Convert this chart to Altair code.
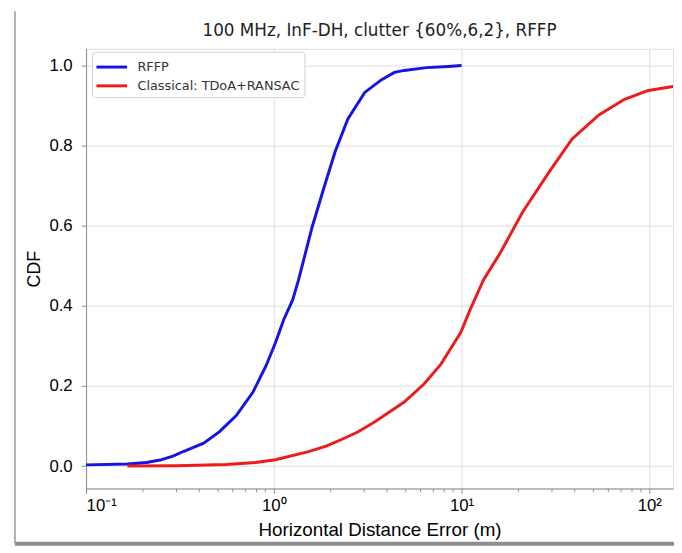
import altair as alt
import pandas as pd

# RFFP CDF points (x in metres, cdf)
rffp_x = [0.1, 0.166, 0.21, 0.248, 0.29, 0.332, 0.423, 0.514, 0.631, 0.775, 0.908,
          1.02, 1.13, 1.26, 1.354, 1.60, 1.83, 2.12, 2.48, 3.05, 3.75, 4.39, 4.95,
          6.5, 8.5, 10.0]
rffp_y = [0.003, 0.005, 0.009, 0.015, 0.025, 0.037, 0.057, 0.086, 0.126, 0.185, 0.25,
          0.308, 0.366, 0.415, 0.465, 0.597, 0.688, 0.785, 0.867, 0.933, 0.965, 0.983, 0.988,
          0.995, 0.998, 1.0]

# Classical TDoA+RANSAC CDF points
cls_x = [0.166, 0.305, 0.559, 0.8, 1.02, 1.53, 1.9, 2.31, 2.8, 3.44, 4.95, 6.31, 7.75,
         9.88, 11.1, 13.06, 16.0, 21.2, 29.4, 38.8, 53.9, 73.8, 98.8, 133.7, 150.0]
cls_y = [0.0, 0.001, 0.004, 0.009, 0.016, 0.036, 0.05, 0.067, 0.085, 0.11, 0.16, 0.205,
         0.254, 0.333, 0.39, 0.464, 0.531, 0.635, 0.736, 0.817, 0.877, 0.916, 0.938,
         0.948, 0.952]

series = ["RFFP", "Classical: TDoA+RANSAC"]
colors = ["#1414e6", "#ec1c1c"]

x_major = [0.1, 1, 10, 100]
x_minor = [m * d for d in [0.1, 1, 10] for m in range(2, 10)]
y_ticks = [0.0, 0.2, 0.4, 0.6, 0.8, 1.0]
x_domain = [0.1, 133.7]
y_domain = [-0.056, 1.042]

title_text = "100 MHz, InF-DH, clutter {60%,6,2}, RFFP"
x_title = "Horizontal Distance Error (m)"
y_title = "CDF"

df = pd.concat([
    pd.DataFrame({"x": rffp_x, "y": rffp_y, "s": series[0], "o": 0}),
    pd.DataFrame({"x": cls_x, "y": cls_y, "s": series[1], "o": 1}),
])

FONT = "DejaVu Sans"

xscale = alt.Scale(type="log", domain=x_domain, nice=False)
yscale = alt.Scale(domain=y_domain, nice=False, zero=False)

y_axis = alt.Axis(values=y_ticks, format=".1f", grid=True, tickSize=5,
                  labelPadding=9, titlePadding=5,
                  labelFontSize=17, titleFontSize=18, titleFontWeight="normal")

lines = alt.Chart(df).mark_line(strokeWidth=3, clip=True).encode(
    x=alt.X("x:Q", scale=xscale, title=x_title,
            axis=alt.Axis(values=x_major, orient="bottom", grid=True,
                          labelExpr="datum.value < 0.5 ? '10⁻¹' : datum.value < 5 ? '10⁰' : datum.value < 50 ? '10¹' : '10²'",
                          tickSize=5, labelPadding=4, titlePadding=8,
                          labelFontSize=17, titleFontSize=19, titleFontWeight="normal")),
    y=alt.Y("y:Q", scale=yscale, title=y_title, axis=y_axis),
    color=alt.Color("s:N", scale=alt.Scale(domain=series, range=colors), sort=series,
                    legend=alt.Legend(title=None, orient="none", legendX=6, legendY=3,
                                      symbolType="M-1.1,0L2,0", symbolStrokeWidth=3, symbolSize=400,
                                      labelFontSize=13, labelFont=FONT, labelColor="#333",
                                      labelLimit=400,
                                      fillColor="white", strokeColor="#d0d0d0", cornerRadius=3,
                                      padding=4, rowPadding=-1, labelOffset=19)),
    order="o:Q",
    detail="s:N",
)

minor = alt.Chart(df).mark_line(opacity=0).encode(
    x=alt.X("x:Q", scale=xscale,
            axis=alt.Axis(values=x_minor, orient="bottom", grid=False, labels=False,
                          title=None, domain=False, tickSize=3)),
    y=alt.Y("y:Q", scale=yscale, title=y_title),
)

# screenshot frame decoration
frame_left = alt.Chart(pd.DataFrame({"k": [0]})).mark_rule(color="#b0b0b0", strokeWidth=2).encode(
    x=alt.value(-72), y=alt.value(-38), y2=alt.value(500))
frame_bottom = alt.Chart(pd.DataFrame({"k": [0]})).mark_rule(color="#707070", strokeWidth=4, opacity=0.8).encode(
    x=alt.value(-72), x2=alt.value(600), y=alt.value(501))

chart = alt.layer(lines, minor, frame_left, frame_bottom).resolve_axis(x="independent").properties(
    width=594, height=445,
    title=alt.TitleParams(title_text, fontSize=17, font=FONT, fontWeight="normal",
                          color="#222", anchor="middle", frame="group", offset=0, dy=30),
    autosize=alt.AutoSizeParams(type="none"),
    padding={"left": 79, "top": 38, "right": 1, "bottom": 62},
).configure_axis(
    labelFont=FONT, titleFont=FONT, labelColor="#222", titleColor="#222",
    titleFontWeight="normal", gridColor="#d4d4d4", gridWidth=1.2,
    tickColor="#333", domainColor="#333", domainWidth=1.2,
).configure_view(stroke="#333", strokeWidth=1.2).configure(background="white")

chart.save("out.html", embed_options={"renderer": "svg", "actions": False})
